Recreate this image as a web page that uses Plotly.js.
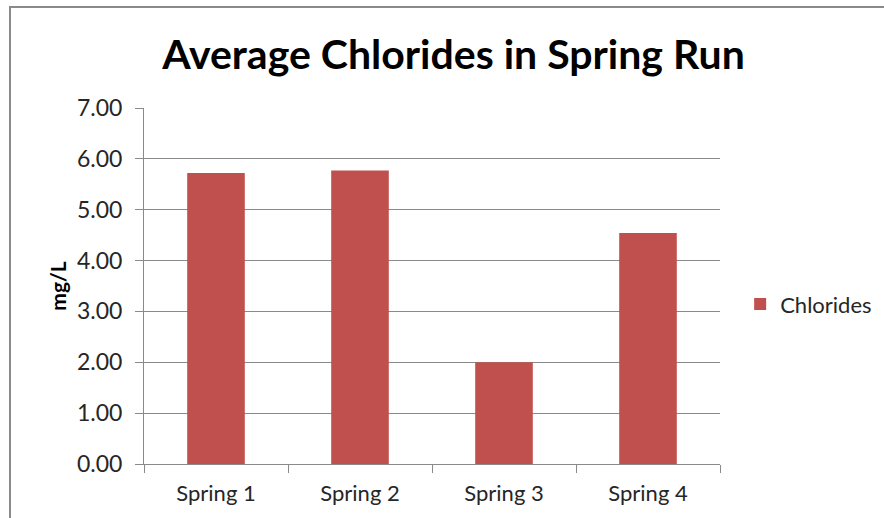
<!DOCTYPE html>
<html>
<head>
<meta charset="utf-8">
<script src="https://cdn.plot.ly/plotly-3.0.1.min.js"></script>
<style>
  html, body { margin: 0; padding: 0; background: #fff; overflow: hidden; }
  #chart { width: 884px; height: 518px; position: absolute; left: 0; top: 0; }
  #frame { position: absolute; left: 9px; top: 6px; width: 900px; height: 540px;
           border-top: 2px solid #8a8a8a; border-left: 2px solid #8a8a8a; pointer-events: none; }
</style>
</head>
<body>
<div id="chart"></div>
<div id="frame"></div>
<script>
const categories = ["Spring 1", "Spring 2", "Spring 3", "Spring 4"];
const chlorides = [5.72, 5.77, 2.00, 4.54];
const seriesName = "Chlorides";
const yTickVals = [0, 1, 2, 3, 4, 5, 6, 7];
const yTickText = ["0.00", "1.00", "2.00", "3.00", "4.00", "5.00", "6.00", "7.00"];

const font = "Lato, 'Open Sans', sans-serif";

const data = [{
  type: "bar",
  x: categories,
  y: chlorides,
  name: seriesName,
  marker: { color: "#C0504D", line: { width: 0 } },
  showlegend: true
}];

const layout = {
  width: 884,
  height: 518,
  margin: { l: 144, r: 164, t: 108, b: 54, autoexpand: false },
  paper_bgcolor: "#fff",
  plot_bgcolor: "#fff",
  bargap: 0.6,
  showlegend: true,
  font: { family: font, color: "#262626", size: 22 },
  title: {
    text: "<b>Average Chlorides in Spring Run</b>",
    font: { family: font, size: 41, color: "#000" },
    x: 0.513, xanchor: "center",
    y: 0.894, yanchor: "middle"
  },
  xaxis: {
    type: "category",
    showline: true, linecolor: "#8a8a8a", linewidth: 1,
    ticks: "outside", ticklen: 8, tickcolor: "#8a8a8a",
    tickson: "boundaries",
    showgrid: false,
    tickfont: { family: font, size: 22, color: "#262626" },
    ticklabelstandoff: 10,
    automargin: false,
    fixedrange: true
  },
  yaxis: {
    range: [0, 7],
    tickvals: yTickVals,
    ticktext: yTickText,
    showline: true, linecolor: "#8a8a8a", linewidth: 1,
    ticks: "outside", ticklen: 8, tickcolor: "#8a8a8a",
    showgrid: true, gridcolor: "#8a8a8a", gridwidth: 1,
    zeroline: false,
    tickfont: { family: font, size: 23, color: "#262626" },
    ticklabelstandoff: 8,
    title: { text: "<b>mg/L</b>", font: { family: font, size: 21, color: "#000" }, standoff: 4 },
    automargin: false,
    fixedrange: true
  },
  legend: {
    x: 1.035, xanchor: "left",
    y: 0.449, yanchor: "middle",
    font: { family: font, size: 22, color: "#262626" },
    bgcolor: "rgba(0,0,0,0)"
  }
};

Plotly.newPlot("chart", data, layout, { staticPlot: true, displayModeBar: false });
</script>
</body>
</html>
